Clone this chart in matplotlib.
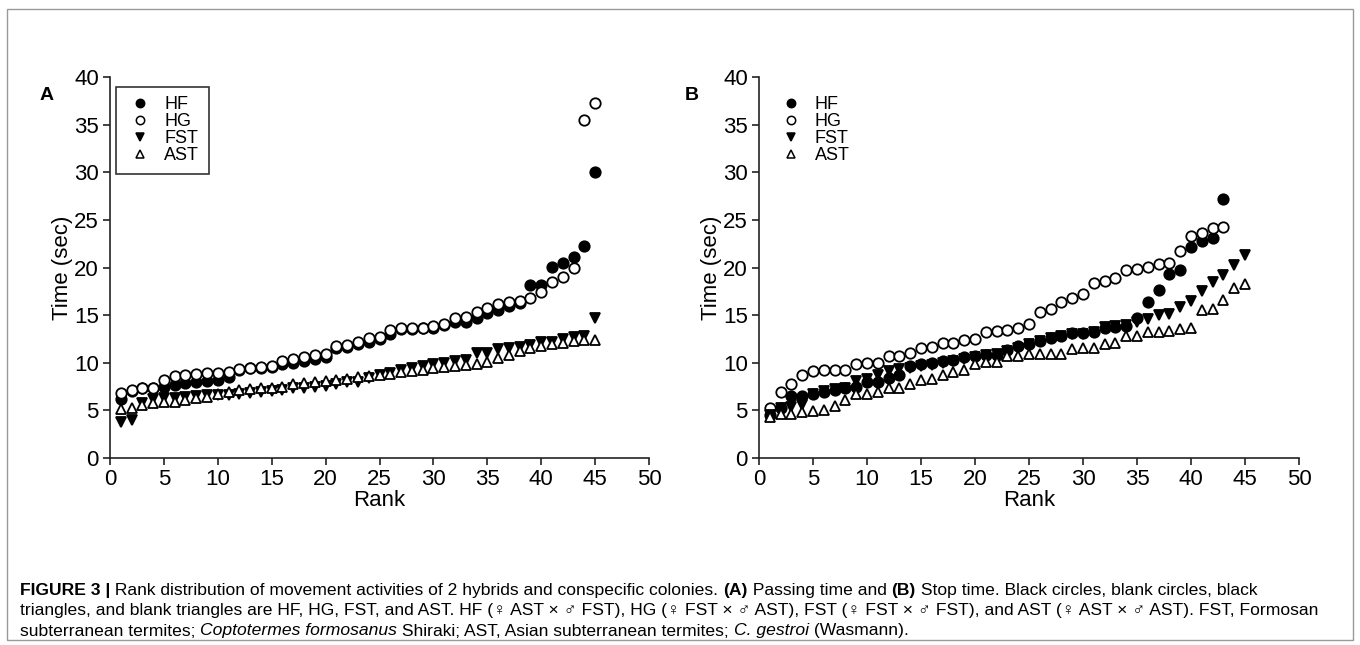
import matplotlib.pyplot as plt
from matplotlib.patches import Rectangle
from matplotlib.lines import Line2D

plt.rcParams['font.family'] = ['Liberation Sans', 'DejaVu Sans']

# panel A: passing time
rank_a = list(range(1, 46))
hf_a = [6.2, 7.0, 7.3, 7.4, 7.5, 7.7, 7.9, 8.0, 8.1, 8.2, 8.5, 9.2, 9.4, 9.5, 9.6,
        9.9, 10.0, 10.2, 10.4, 10.6, 11.5, 11.7, 12.0, 12.2, 12.5, 13.0, 13.5, 13.5, 13.6, 13.7,
        14.0, 14.3, 14.3, 14.7, 15.2, 15.5, 16.0, 16.3, 18.2, 18.2, 20.1, 20.5, 21.1, 22.3, 30.0]
hg_a = [6.8, 7.1, 7.3, 7.4, 8.2, 8.6, 8.7, 8.8, 8.9, 8.9, 9.0, 9.3, 9.5, 9.6, 9.7,
        10.2, 10.4, 10.6, 10.8, 10.9, 11.8, 11.9, 12.2, 12.6, 12.7, 13.4, 13.6, 13.6, 13.7, 13.9,
        14.1, 14.7, 14.8, 15.3, 15.7, 16.2, 16.4, 16.5, 16.8, 17.4, 18.5, 19.0, 20.0, 35.5, 37.3]
fst_a = [3.8, 4.0, 5.8, 6.2, 6.3, 6.3, 6.4, 6.5, 6.6, 6.6, 6.6, 6.7, 6.8, 6.9, 7.0,
         7.1, 7.3, 7.4, 7.5, 7.6, 7.8, 8.0, 8.0, 8.4, 8.7, 8.9, 9.2, 9.4, 9.7, 9.9,
         10.0, 10.2, 10.3, 11.0, 11.0, 11.4, 11.6, 11.7, 11.9, 12.2, 12.2, 12.5, 12.7, 12.8, 14.7]
ast_a = [5.1, 5.3, 5.6, 5.8, 5.9, 5.9, 6.1, 6.3, 6.4, 6.7, 6.9, 7.1, 7.2, 7.3, 7.4,
         7.5, 7.8, 7.9, 8.0, 8.1, 8.2, 8.3, 8.5, 8.6, 8.7, 8.8, 9.0, 9.1, 9.2, 9.4,
         9.6, 9.7, 9.8, 9.9, 10.1, 10.5, 10.8, 11.2, 11.5, 11.8, 12.0, 12.1, 12.3, 12.4, 12.4]

# panel B: stop time
rank_b43 = list(range(1, 44))
rank_b45 = list(range(1, 46))
hf_b = [4.5, 5.3, 6.5, 6.5, 6.7, 6.9, 7.1, 7.3, 7.5, 8.0, 8.0, 8.4, 8.7, 9.7, 9.9,
        10.0, 10.2, 10.3, 10.6, 10.7, 10.8, 10.8, 11.3, 11.8, 12.0, 12.3, 12.6, 12.8, 13.1, 13.1,
        13.2, 13.7, 13.8, 13.9, 14.7, 16.4, 17.6, 19.3, 19.7, 22.2, 22.8, 23.1, 27.2]
hg_b = [5.25, 6.9, 7.8, 8.7, 9.1, 9.2, 9.2, 9.2, 9.9, 10.0, 10.0, 10.7, 10.7, 11.0, 11.6,
        11.7, 12.1, 12.1, 12.4, 12.5, 13.2, 13.3, 13.4, 13.7, 14.1, 15.3, 15.6, 16.4, 16.8, 17.2,
        18.4, 18.6, 18.9, 19.7, 19.8, 20.1, 20.4, 20.5, 21.7, 23.3, 23.6, 24.1, 24.3]
fst_b = [4.5, 5.2, 5.4, 5.6, 6.7, 7.0, 7.2, 7.4, 8.1, 8.3, 8.7, 9.1, 9.3, 9.5, 9.7,
         9.8, 10.0, 10.2, 10.4, 10.6, 10.8, 10.9, 11.2, 11.6, 12.0, 12.3, 12.6, 12.8, 13.0, 13.0,
         13.2, 13.8, 13.9, 14.0, 14.3, 14.6, 15.0, 15.1, 15.9, 16.5, 17.5, 18.5, 19.2, 20.3, 21.3]
ast_b = [4.3, 4.6, 4.6, 4.8, 4.9, 5.0, 5.5, 6.1, 6.7, 6.7, 6.9, 7.3, 7.4, 7.8, 8.2,
         8.3, 8.7, 9.0, 9.2, 9.9, 10.1, 10.1, 10.7, 10.7, 10.9, 10.9, 10.9, 10.9, 11.4, 11.6,
         11.6, 12.0, 12.1, 12.8, 12.8, 13.2, 13.2, 13.3, 13.5, 13.7, 15.5, 15.6, 16.6, 17.8, 18.3]

labels = ['HF', 'HG', 'FST', 'AST']
styles = [dict(marker='o', mfc='black', mec='black'),
          dict(marker='o', mfc='white', mec='black'),
          dict(marker='v', mfc='black', mec='black'),
          dict(marker='^', mfc='white', mec='black')]

W, H = 1360, 645
fig = plt.figure(figsize=(13.6, 6.45), dpi=100)
ax_a = fig.add_axes([110 / W, 1 - 458 / H, 539 / W, 381 / H])
ax_b = fig.add_axes([759 / W, 1 - 458 / H, 540 / W, 381 / H])

panels = [(ax_a, [(rank_a, hf_a), (rank_a, hg_a), (rank_a, fst_a), (rank_a, ast_a)]),
          (ax_b, [(rank_b43, hf_b), (rank_b43, hg_b), (rank_b45, fst_b), (rank_b45, ast_b)])]

for ax, series in panels:
    for (x, y), st, lab in zip(series, styles, labels):
        ax.plot(x, y, ls='none', ms=7.5, mew=1.3, label=lab, clip_on=False, **st)
    ax.set_xlim(0, 50)
    ax.set_ylim(0, 40)
    ax.set_xticks(range(0, 51, 5))
    ax.set_yticks(range(0, 41, 5))
    ax.spines['top'].set_visible(False)
    ax.spines['right'].set_visible(False)
    for s in ['left', 'bottom']:
        ax.spines[s].set_linewidth(1.2)
        ax.spines[s].set_color('#222222')
    ax.tick_params(direction='out', length=5, width=1.2, labelsize=16, color='#222222', pad=3)
    ax.set_xlabel('Rank', fontsize=16, labelpad=0)
    ax.set_ylabel('Time (sec)', fontsize=16, labelpad=1)

handles = [Line2D([], [], ls='none', ms=6, mew=1.1, **st) for st in styles]
leg_a = ax_a.legend(handles, labels, loc='upper left', bbox_to_anchor=(0.012, 0.975),
                    frameon=True, fancybox=False, edgecolor='black', fontsize=13,
                    labelspacing=0, handletextpad=0.6, handlelength=1.5,
                    borderpad=0.55, borderaxespad=0)
leg_a.get_frame().set_linewidth(1.2)
ax_b.legend(handles, labels, loc='upper left', bbox_to_anchor=(0.015, 0.975),
            frameon=False, fontsize=13, labelspacing=0, handletextpad=0.6,
            handlelength=1.5, borderpad=0.55, borderaxespad=0)

fig.text(40 / W, 1 - 95 / H, 'A', fontsize=14, fontweight='bold', va='center')
fig.text(685 / W, 1 - 95 / H, 'B', fontsize=14, fontweight='bold', va='center')

# outer frame
fig.patches.append(Rectangle((7 / W, 5 / H), 1346 / W, 631 / H,
                             transform=fig.transFigure, fill=False,
                             edgecolor='#999999', lw=1))

# caption, written as runs of (text, weight, style)
caption = [
    [('FIGURE 3 |', 'bold', 'normal'),
     (' Rank distribution of movement activities of 2 hybrids and conspecific colonies. ', 'normal', 'normal'),
     ('(A)', 'bold', 'normal'), (' Passing time and ', 'normal', 'normal'),
     ('(B)', 'bold', 'normal'),
     (' Stop time. Black circles, blank circles, black', 'normal', 'normal')],
    [('triangles, and blank triangles are HF, HG, FST, and AST. HF (\u2640 AST \u00d7 \u2642 FST), '
      'HG (\u2640 FST \u00d7 \u2642 AST), FST (\u2640 FST \u00d7 \u2642 FST), and AST '
      '(\u2640 AST \u00d7 \u2642 AST). FST, Formosan', 'normal', 'normal')],
    [('subterranean termites; ', 'normal', 'normal'),
     ('Coptotermes formosanus', 'normal', 'italic'),
     (' Shiraki; AST, Asian subterranean termites; ', 'normal', 'normal'),
     ('C. gestroi', 'normal', 'italic'), (' (Wasmann).', 'normal', 'normal')],
]
cap_y = [590, 610, 631]
fig.canvas.draw()
renderer = fig.canvas.get_renderer()
for runs, yy in zip(caption, cap_y):
    xx = 20
    for txt, wt, sty in runs:
        t = fig.text(xx / W, 1 - yy / H, txt, fontsize=12.6, fontweight=wt,
                     fontstyle=sty, va='center')
        xx = t.get_window_extent(renderer).x1

fig.savefig('out.png', dpi=100)
